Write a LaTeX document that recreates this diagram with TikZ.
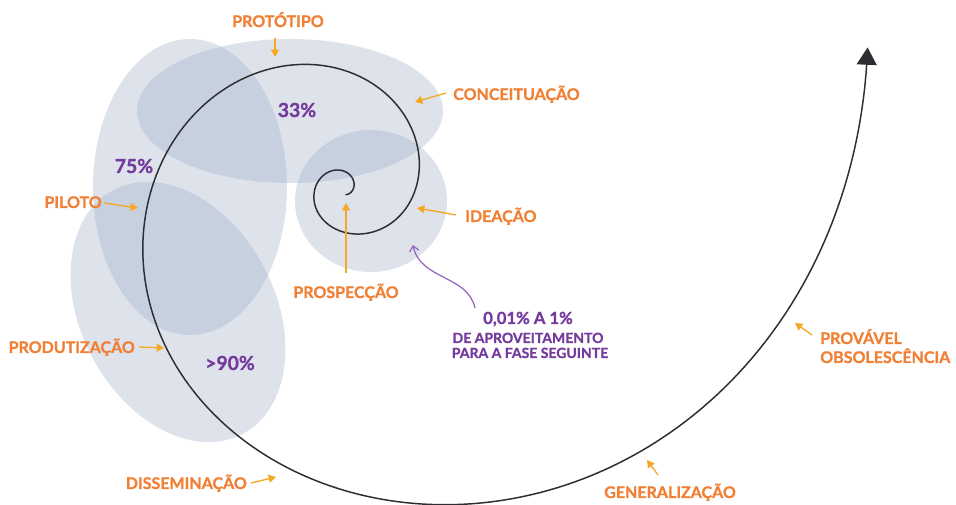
\documentclass[tikz,border=0pt]{standalone}
\usepackage{fontspec}
\setmainfont{Lato}[BoldFeatures={FakeBold=1}]
\usetikzlibrary{arrows.meta}
\definecolor{blob}{RGB}{155,170,197}
\definecolor{lab}{RGB}{241,128,52}
\definecolor{arr}{RGB}{245,168,38}
\definecolor{pur}{RGB}{116,58,158}
\definecolor{purline}{RGB}{146,100,188}
\definecolor{spir}{RGB}{45,45,50}
\begin{document}
\begin{tikzpicture}[x=0.75pt,y=0.75pt,
  blobshape/.style={fill=blob, fill opacity=0.33, draw=none},
  lbl/.style={text=lab, font=\bfseries\fontsize{12}{14}\selectfont, inner sep=0pt},
  pct/.style={text=pur, font=\bfseries\fontsize{14.5}{16}\selectfont, inner sep=0pt, anchor=base},
  pctbig/.style={text=pur, font=\bfseries\fontsize{12.5}{14}\selectfont, inner sep=0pt, anchor=base},
  pctsmall/.style={text=pur, font=\bfseries\fontsize{10.5}{12}\selectfont, inner sep=0pt, anchor=base},
  labarrow/.style={draw=arr, line width=1pt, -{Triangle[width=6pt,length=5.5pt]}},
  purarrow/.style={draw=purline, line width=0.9pt, -{Straight Barb[length=4pt,width=7pt]}},
  spiralline/.style={draw=spir, line width=1.1pt, -{Triangle[width=15pt,length=13pt]}}]
\useasboundingbox (0,0) rectangle (956,505);
\fill[white] (0,0) rectangle (956,505);

% blobs
\fill[blobshape] (290,394) ellipse [x radius=153, y radius=72];
\fill[blobshape] (190,318) ellipse [x radius=97, y radius=148];
\fill[blobshape, rotate around={28:(178,193)}] (178,193) ellipse [x radius=97, y radius=138];
\fill[blobshape] (371,304) ellipse [x radius=76, y radius=71];

% spiral
\draw[spiralline] plot[domain=-70:735, samples=600, variable=\t]
  ({343+18.8*exp(0.00536*(\t-107))*cos(\t)},
   {317+18.8*exp(0.00536*(\t-107))*sin(\t)*(1-0.024*max(0,-sin(\t)))});

% tip coordinates
\coordinate (protoTip) at (275,448);
\coordinate (concTip) at (415,403);
\coordinate (ideaTip) at (417,297);
\coordinate (pilotoTip) at (138,297);
\coordinate (prospTip) at (346,302);
\coordinate (produtTip) at (164,157);
\coordinate (dissemTip) at (276,28);
\coordinate (generalTip) at (647,45);
\coordinate (obsTip) at (795,182);
\coordinate (pctTip) at (413,260);

% labels
\node[lbl, anchor=base] (proto) at (278,478) {PROTÓTIPO};
\node[lbl, anchor=base west] (conc) at (453,405) {CONCEITUAÇÃO};
\node[lbl, anchor=base west] (idea) at (465,283) {IDEAÇÃO};
\node[lbl, anchor=base east] (piloto) at (102,297) {PILOTO};
\node[lbl, anchor=base] (prosp) at (346,207) {PROSPECÇÃO};
\node[lbl, anchor=base east] (produt) at (135,152) {PRODUTIZAÇÃO};
\node[lbl, anchor=base east] (dissem) at (247,16) {DISSEMINAÇÃO};
\node[lbl, anchor=base] (general) at (670,7) {GENERALIZAÇÃO};
\node[lbl, anchor=base west] (obs1) at (820,161) {PROVÁVEL};
\node[lbl, anchor=base west] (obs2) at (820,142) {OBSOLESCÊNCIA};

\node[pct] (p75) at (134,332) {75\%};
\node[pct] (p33) at (297,388) {33\%};
\node[pct] (p90) at (230,135) {>90\%};

\node[pctbig] (pct1) at (528,181) {0,01\% A 1\%};
\node[pctsmall] (pct2) at (528,162) {DE APROVEITAMENTO};
\node[pctsmall] (pct3) at (530,147) {PARA A FASE SEGUINTE};

% label arrows
\draw[labarrow] ([shift={(-3,-11)}]proto.base) -- (protoTip);
\draw[labarrow] ([shift={(-7,7)}]conc.base west) -- (concTip);
\draw[labarrow] ([shift={(-9,7)}]idea.base west) -- (ideaTip);
\draw[labarrow] ([shift={(2,5)}]piloto.base east) -- (pilotoTip);
\draw[labarrow] ([shift={(0,25)}]prosp.base) -- (prospTip);
\draw[labarrow] ([shift={(4,6)}]produt.base east) -- (produtTip);
\draw[labarrow] ([shift={(4,6)}]dissem.base east) -- (dissemTip);
\draw[labarrow] ([shift={(-12,23)}]general.base) -- (generalTip);
\draw[labarrow] ([shift={(-8,9)}]obs1.base west) -- (obsTip);
\draw[purarrow] ([shift={(-8,16)}]pct1.base west) .. controls (468,230) and (420,225) .. (pctTip);
\end{tikzpicture}
\end{document}
